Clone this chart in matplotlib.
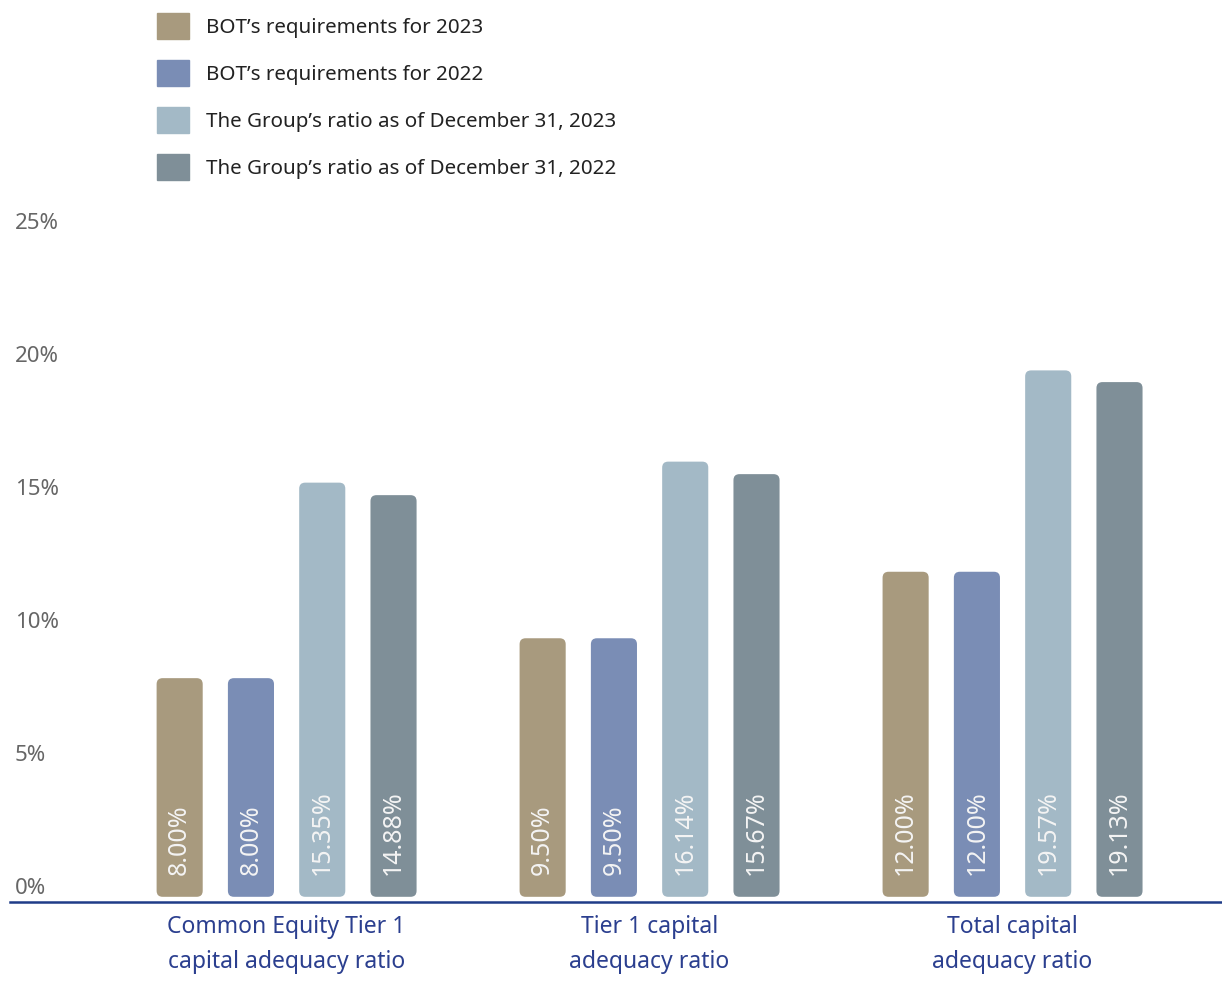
import numpy as np
import matplotlib
matplotlib.use("Agg")
import matplotlib.pyplot as plt
from matplotlib.patches import FancyBboxPatch

plt.rcParams['font.family'] = ['Noto Sans', 'DejaVu Sans']

# data
categories = ["Common Equity Tier 1\ncapital adequacy ratio",
              "Tier 1 capital\nadequacy ratio",
              "Total capital\nadequacy ratio"]
series_names = ["BOT\u2019s requirements for 2023",
                "BOT\u2019s requirements for 2022",
                "The Group\u2019s ratio as of December 31, 2023",
                "The Group\u2019s ratio as of December 31, 2022"]
bot_2023 = [8.00, 9.50, 12.00]
bot_2022 = [8.00, 9.50, 12.00]
group_2023 = [15.35, 16.14, 19.57]
group_2022 = [14.88, 15.67, 19.13]
y_ticks = [0, 5, 10, 15, 20, 25]
y_tick_labels = ["0%", "5%", "10%", "15%", "20%", "25%"]

colors = ["#A89A7E", "#7A8DB5", "#A3B9C6", "#7F8F98"]


def main():
    fig = plt.figure(figsize=(12.22, 9.85), dpi=100)
    ax = fig.add_axes([10 / 1222, 0.0840, 1 - 10 / 1222, 0.6866])

    x = np.arange(len(categories))
    step = 0.1964
    width = 0.127
    offsets = np.array([-1.5, -0.5, 0.5, 1.5]) * step
    all_series = [bot_2023, bot_2022, group_2023, group_2022]

    ax.set_xlim(-0.762, 2.577)
    ax.set_ylim(-0.425, 25)

    # bars sit a little below the zero line, like the original
    base = 0.22
    # y data units per pixel over x data units per pixel, for round corners
    aspect = (1 / 26.6) / (1 / 363.0)
    for i, vals in enumerate(all_series):
        bars = ax.bar(x + offsets[i], np.array(vals) + base, width,
                      bottom=-base, color=colors[i], label=series_names[i])
        for rect, v in zip(bars, vals):
            rect.set_visible(False)
            patch = FancyBboxPatch((rect.get_x(), rect.get_y()),
                                   rect.get_width(), rect.get_height(),
                                   boxstyle="round,pad=0,rounding_size=0.0165",
                                   mutation_aspect=aspect,
                                   facecolor=colors[i], edgecolor="none")
            ax.add_patch(patch)
            ax.text(rect.get_x() + rect.get_width() / 2, 0.6, f"{v:.2f}%",
                    rotation=90, ha="center", va="bottom",
                    color="#F4F4F4", fontsize=18)

    # axis styling
    for s in ["top", "right", "left"]:
        ax.spines[s].set_visible(False)
    ax.spines["bottom"].set_color("#1F3C88")
    ax.spines["bottom"].set_linewidth(1.8)
    ax.set_yticks([])
    ax.set_xticks(x)
    ax.set_xticklabels(categories, fontsize=16.5, color="#2B3F8F",
                       linespacing=1.62)
    ax.tick_params(axis="x", length=0, pad=9)

    # y tick labels drawn inside the axes at the left
    trans = ax.get_yaxis_transform()
    for t, lab in zip(y_ticks, y_tick_labels):
        ax.text(0.004, t + 0.1, lab, transform=trans, ha="left",
                va="center", fontsize=16, color="#666666",
                fontweight="semibold")

    fig.legend(handles=[plt.Rectangle((0, 0), 1, 1, color=c) for c in colors],
               labels=series_names, loc="upper left",
               bbox_to_anchor=(157 / 1222, 1 - 13 / 985),
               frameon=False, fontsize=14.8, handlelength=1.56,
               handleheight=1.6, labelspacing=1.0, handletextpad=0.8,
               borderpad=0, borderaxespad=0, labelcolor="#222222")

    fig.savefig("out.png", dpi=100)


if __name__ == "__main__":
    main()
